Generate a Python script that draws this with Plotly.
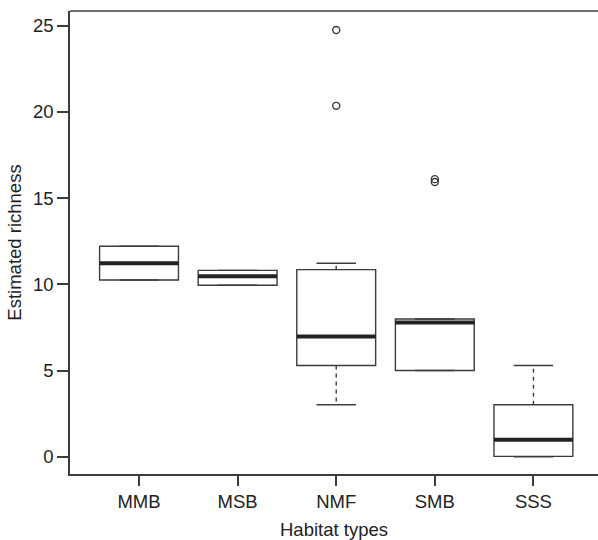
import plotly.graph_objects as go

categories = ["MMB", "MSB", "NMF", "SMB", "SSS"]
lower_whisker = [10.25, 9.95, 3.02, 5.00, 0.00]
q1 = [10.25, 9.95, 5.29, 5.00, 0.02]
median = [11.22, 10.47, 6.98, 7.79, 0.98]
q3 = [12.21, 10.81, 10.85, 7.99, 3.02]
upper_whisker = [12.21, 10.81, 11.22, 7.99, 5.29]
outlier_groups = ["NMF", "NMF", "SMB", "SMB"]
outlier_values = [24.75, 20.35, 15.93, 16.10]

y_ticks = [0, 5, 10, 15, 20, 25]

LINE = "#3c3c3c"
TEXT = "#222222"
FONT = "Liberation Sans, Arial, Helvetica, sans-serif"
BOXW = 0.8
CAPW = 0.4

pos = {c: i + 1 for i, c in enumerate(categories)}

fig = go.Figure()

for i, c in enumerate(categories):
    x = pos[c]
    fig.add_trace(go.Box(
        x=[x], q1=[q1[i]], median=[median[i]], q3=[q3[i]],
        lowerfence=[q1[i]], upperfence=[q3[i]],
        width=BOXW, whiskerwidth=0, boxpoints=False,
        fillcolor="white", line=dict(color=LINE, width=1.4),
        showlegend=False, hoverinfo="skip",
    ))
    # dashed whiskers
    fig.add_trace(go.Scatter(
        x=[x, x, None, x, x],
        y=[q3[i], upper_whisker[i], None, q1[i], lower_whisker[i]],
        mode="lines", line=dict(color=LINE, width=1.4, dash="4px,4px"),
        showlegend=False, hoverinfo="skip",
    ))
    # caps
    fig.add_trace(go.Scatter(
        x=[x - CAPW / 2, x + CAPW / 2, None, x - CAPW / 2, x + CAPW / 2],
        y=[upper_whisker[i], upper_whisker[i], None, lower_whisker[i], lower_whisker[i]],
        mode="lines", line=dict(color=LINE, width=1.4),
        showlegend=False, hoverinfo="skip",
    ))
    # thick median
    fig.add_trace(go.Scatter(
        x=[x - BOXW / 2, x + BOXW / 2], y=[median[i], median[i]],
        mode="lines", line=dict(color="#222222", width=4),
        showlegend=False, hoverinfo="skip",
    ))

fig.add_trace(go.Scatter(
    x=[pos[g] for g in outlier_groups], y=outlier_values,
    mode="markers",
    marker=dict(symbol="circle-open", size=7, color=LINE, line=dict(width=1.4, color=LINE)),
    showlegend=False, hoverinfo="skip",
))

fig.add_shape(type="line", xref="paper", yref="paper", x0=0, x1=1, y0=1, y1=1,
              line=dict(color=LINE, width=1.5))

fig.update_layout(
    width=598, height=540,
    margin=dict(l=70, r=0, t=11, b=66),
    paper_bgcolor="white", plot_bgcolor="white",
    font=dict(family=FONT, size=18.5, color=TEXT),
    xaxis=dict(
        range=[0.3, 5.655], tickmode="array",
        tickvals=[pos[c] for c in categories], ticktext=categories,
        showgrid=False, zeroline=False, showline=True, linecolor=LINE, linewidth=1.5,
        ticks="outside", ticklen=10, tickwidth=1.5, tickcolor=LINE,
        title=dict(text="Habitat types", standoff=12, font=dict(size=18.5)),
    ),
    yaxis=dict(
        range=[-1.0, 25.85], tickmode="array", tickvals=y_ticks,
        showgrid=False, zeroline=False, showline=True, linecolor=LINE, linewidth=1.5,
        ticks="outside", ticklen=11, tickwidth=1.5, tickcolor=LINE,
        title=dict(text="Estimated richness", standoff=6, font=dict(size=18.5)),
    ),
)

fig.write_html("out.html")
